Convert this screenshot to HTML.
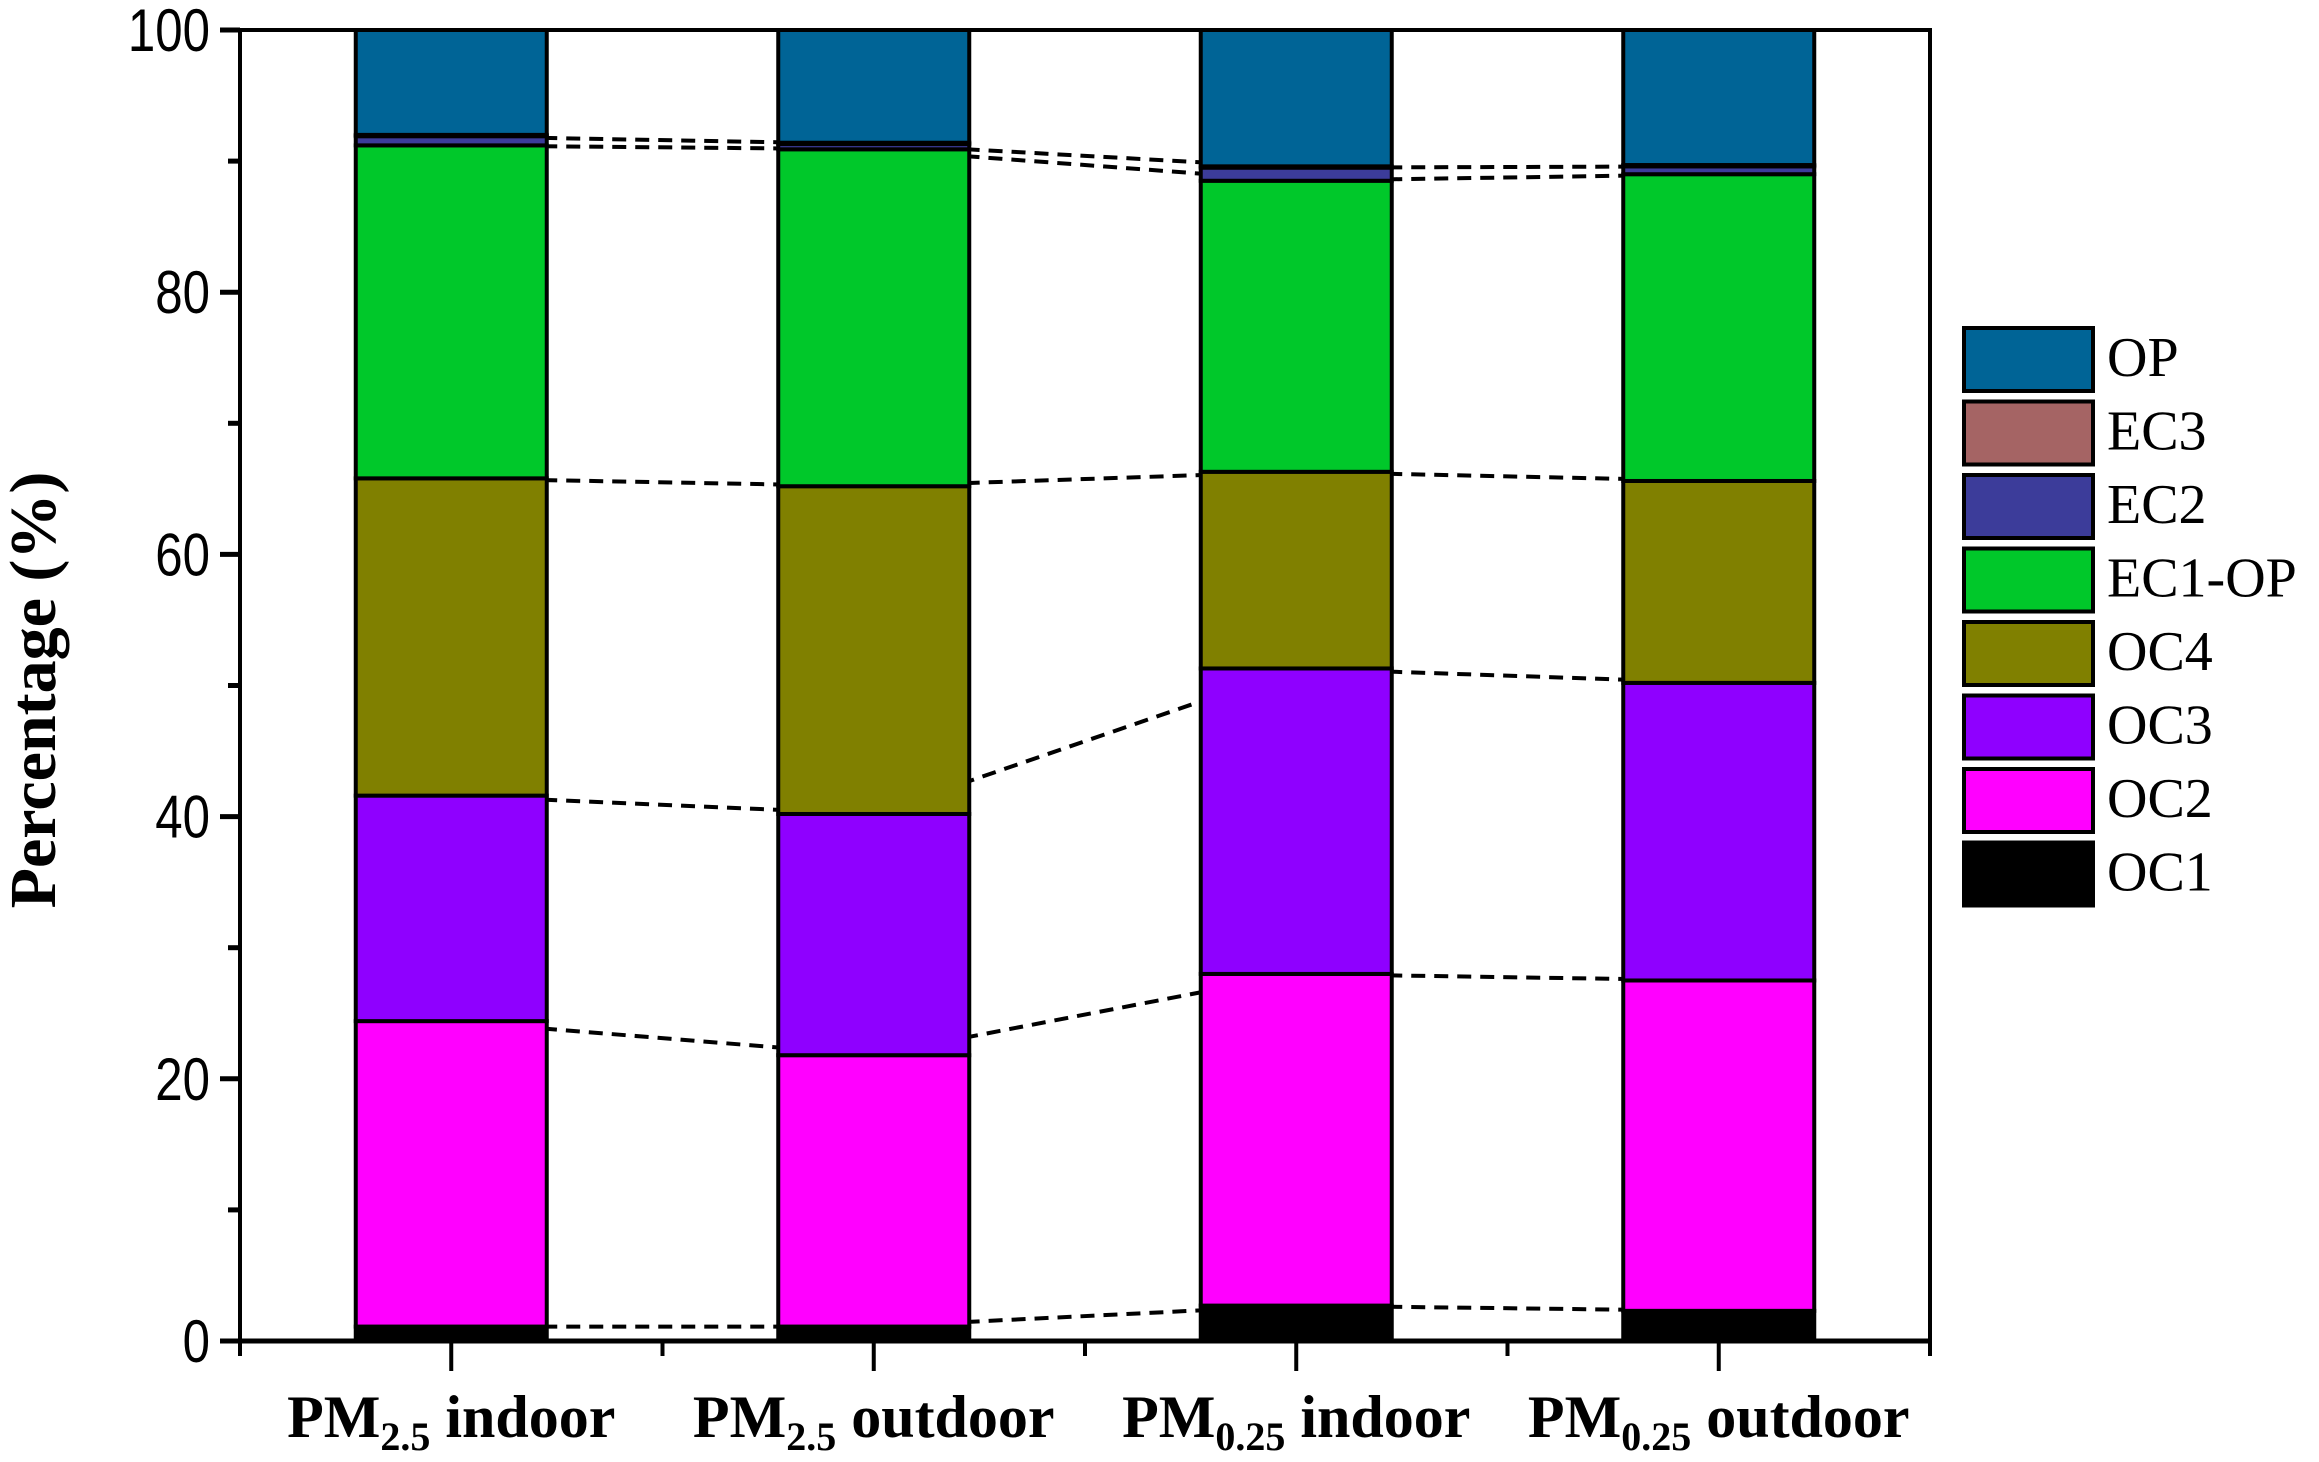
<!DOCTYPE html>
<html><head><meta charset="utf-8"><style>
html,body{margin:0;padding:0;background:#fff;}
svg{display:block;font-family:"Liberation Serif",serif;}
</style></head><body>
<svg id="chart" width="2319" height="1462" viewBox="0 0 2319 1462" xmlns="http://www.w3.org/2000/svg">
<g id="lines"></g>
<g id="bars"></g>
<g id="axes"></g>
<g id="legend"></g>
<text transform="translate(55,690) rotate(-90)" text-anchor="middle" font-weight="bold" font-size="66">Percentage (%)</text>
</svg>
<script>
const categories = ["indoor2.5","outdoor2.5","indoor0.25","outdoor0.25"];
const catMain = ["PM","PM","PM","PM"];
const catSub = ["2.5","2.5","0.25","0.25"];
const catRest = [" indoor"," outdoor"," indoor"," outdoor"];
const series = ["OC1","OC2","OC3","OC4","EC1-OP","EC2","EC3","OP"];
const colors = ["#000000","#ff00ff","#8f00ff","#808000","#00c82a","#3c3c9a","#a56464","#006496"];
const OC1 = [1.1,1.1,2.7,2.3];
const OC2 = [23.3,20.7,25.3,25.2];
const OC3 = [17.2,18.4,23.3,22.7];
const OC4 = [24.2,25.0,15.0,15.4];
const EC1OP = [25.4,25.7,22.2,23.4];
const EC2 = [0.7,0.4,1.0,0.6];
const EC3 = [0.1,0.1,0.1,0.1];
const OP = [8.0,8.6,10.4,10.3];
const yTicks = [0,20,40,60,80,100];
const data = [OC1,OC2,OC3,OC4,EC1OP,EC2,EC3,OP];

const NS="http://www.w3.org/2000/svg";
const X0=240,X1=1930,Y0=1341,Y1=30;
const xs=i=>X0+(i+0.5)*(X1-X0)/4;
const ys=v=>Y0-(Math.min(v,100)/100)*(Y0-Y1);
function mk(tag,attrs,parent){const e=document.createElementNS(NS,tag);for(const k in attrs)e.setAttribute(k,attrs[k]);parent.appendChild(e);return e;}
const gB=document.getElementById('bars'),gL=document.getElementById('lines'),gA=document.getElementById('axes'),gG=document.getElementById('legend');
const bw=191;
const tops=categories.map(()=>[]);
categories.forEach((c,i)=>{
  let cum=0;
  data.forEach((arr,s)=>{
    const y0=ys(cum);cum+=arr[i];const y1=ys(cum);
    tops[i].push(cum);
    const r=mk('rect',{x:xs(i)-bw/2,y:y1,width:bw,height:Math.max(0,y0-y1),fill:colors[s],stroke:'#000','stroke-width':4},gB);
    
    
  });
});
for(let s=0;s<6;s++){
  for(let i=0;i<3;i++){
    const l=mk('line',{x1:xs(i),y1:ys(tops[i][s]),x2:xs(i+1),y2:ys(tops[i+1][s]),stroke:'#000','stroke-width':4,'stroke-dasharray':'14 9'},gL);
    
    
  }
}
mk('path',{d:`M${X0},${Y0}V${Y1}H${X1}V${Y0}`,fill:'none',stroke:'#000','stroke-width':4},gA);
mk('line',{x1:X0-10,y1:Y0,x2:X1,y2:Y0,stroke:'#000','stroke-width':5},gA);
yTicks.forEach(v=>{
  mk('line',{x1:X0-20,y1:ys(v),x2:X0,y2:ys(v),stroke:'#000','stroke-width':5},gA);
  const t=mk('text',{transform:`translate(${X0-30},${ys(v)+21}) scale(0.82,1)`,'text-anchor':'end','font-size':60,'font-family':'Liberation Sans, sans-serif'},gA);
  t.textContent=v;
  
  
  if(v<100) mk('line',{x1:X0-12,y1:ys(v+10),x2:X0,y2:ys(v+10),stroke:'#000','stroke-width':5},gA);
});
for(let k=0;k<=8;k++){
  const x=X0+k*(X1-X0)/8;
  mk('line',{x1:x,y1:Y0,x2:x,y2:Y0+(k%2?30:15),stroke:'#000','stroke-width':4},gA);
}
categories.forEach((c,i)=>{
  const t=mk('text',{x:xs(i),y:1437,'text-anchor':'middle','font-size':60,'font-weight':'bold'},gA);
  
  
  const a=mk('tspan',{},t);a.textContent=catMain[i];
  const b=mk('tspan',{'font-size':40,dy:13},t);b.textContent=catSub[i];
  const d=mk('tspan',{dy:-13},t);d.textContent=catRest[i];
});
const order=[7,6,5,4,3,2,1,0];
order.forEach((s,k)=>{
  const y=328+k*73.5;
  const r=mk('rect',{x:1964,y:y,width:129,height:63,fill:colors[s],stroke:'#000','stroke-width':4},gG);
  
  
  const t=mk('text',{x:2107,y:y+48,'font-size':56},gG);
  t.textContent=series[s];
  
  
});
</script>
</body></html>
